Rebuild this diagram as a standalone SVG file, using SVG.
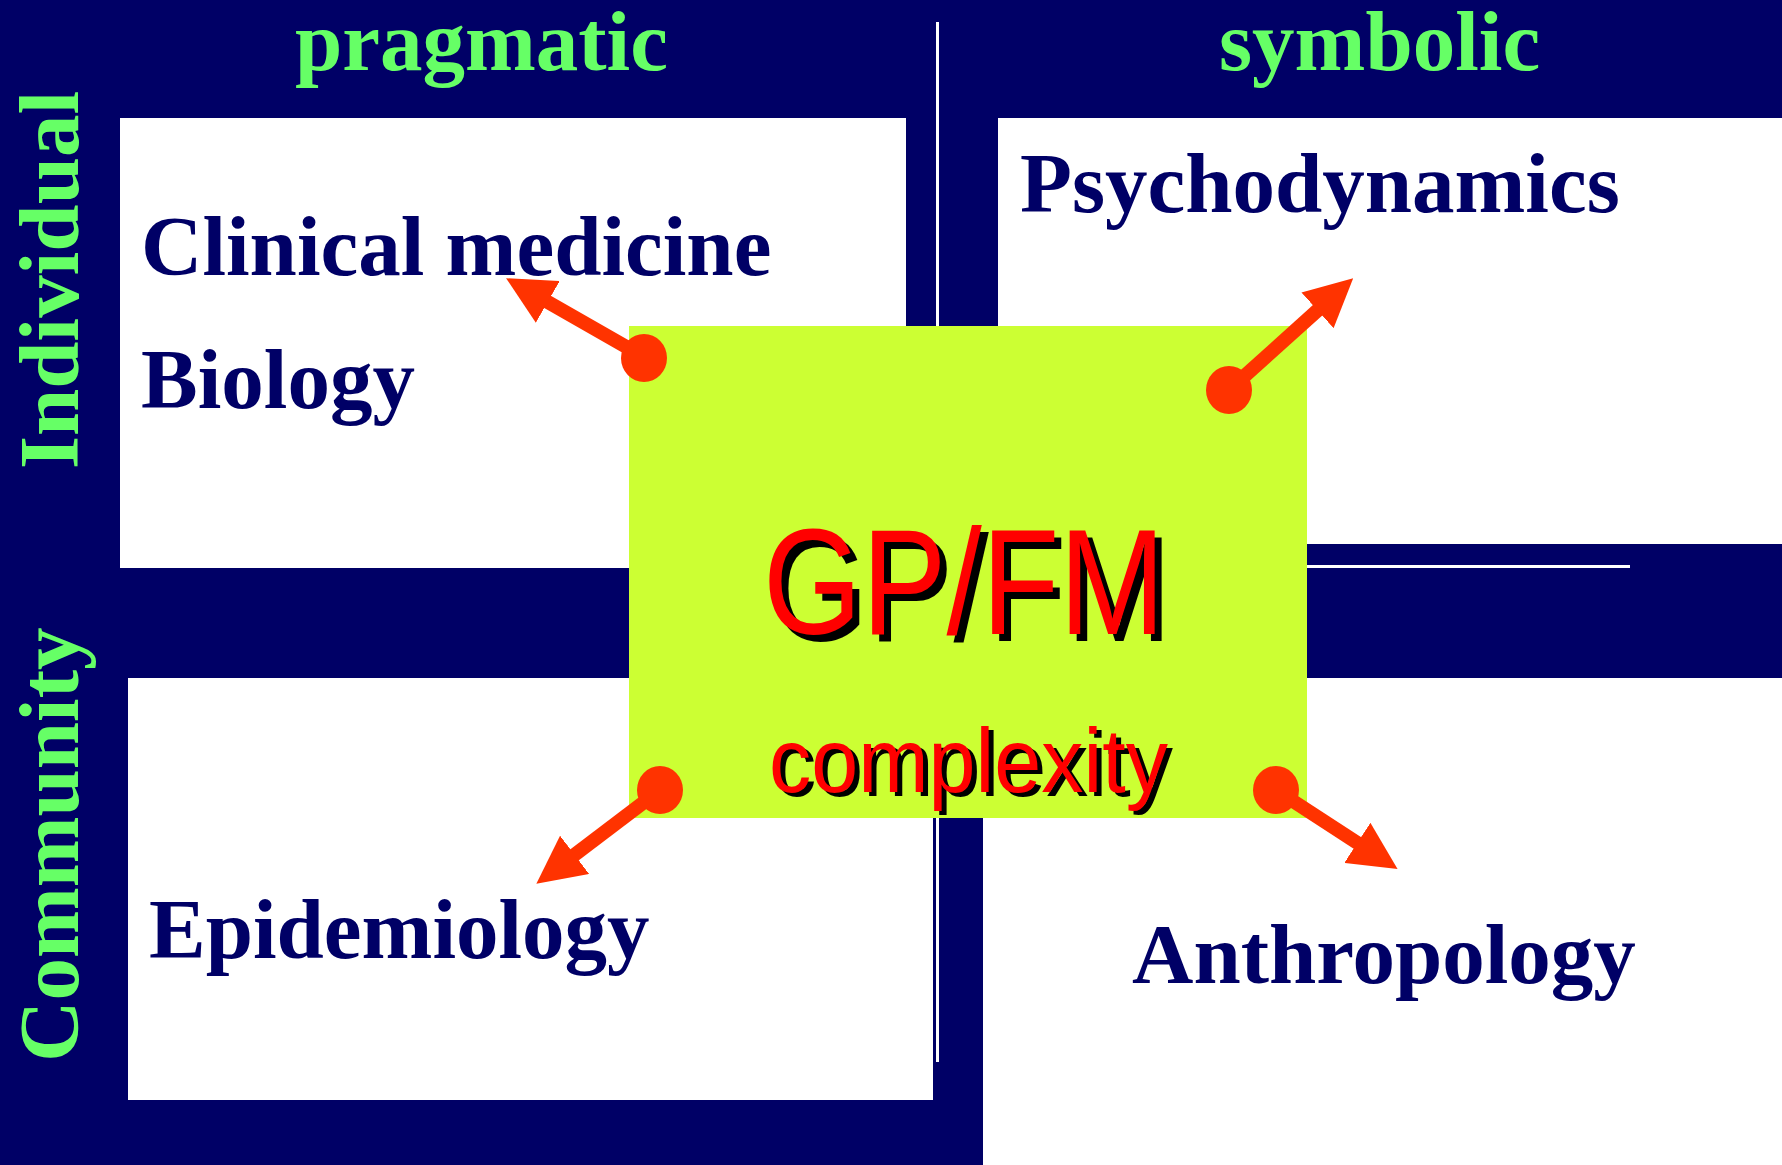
<svg xmlns="http://www.w3.org/2000/svg" width="1782" height="1165" viewBox="0 0 1782 1165">
<style>
.hdr{font-family:"Liberation Serif","Times New Roman",serif;font-weight:bold;font-size:85px;fill:#66FF66}
.lbl{font-family:"Liberation Serif","Times New Roman",serif;font-weight:bold;font-size:85px;fill:#000066}
.big{font-family:"Liberation Sans",Arial,sans-serif;font-size:150px}
.cx{font-family:"Liberation Sans",Arial,sans-serif;font-size:90px}
.quad{fill:#FFFFFF}
.conn{stroke:#FF3300;stroke-width:14;fill:none}
.dot{fill:#FF3300}
</style>
<defs>
<marker id="ah" markerUnits="userSpaceOnUse" markerWidth="48" markerHeight="48" viewBox="0 0 48 48" refX="2" refY="24" orient="auto">
<path d="M0,0 L48,24 L0,48 z" fill="#FF3300"/>
</marker>
</defs>
<rect x="0" y="0" width="1782" height="1165" fill="#000066"/>
<g id="quadrants">
<rect class="quad" x="120" y="118" width="786" height="450"/>
<rect class="quad" x="998" y="118" width="784" height="426"/>
<rect class="quad" x="128" y="678" width="805" height="422"/>
<rect class="quad" x="983" y="678" width="799" height="487"/>
</g>
<g id="dividers">
<rect x="936" y="22" width="3" height="1040" fill="#FFFFFF"/>
<rect x="1300" y="565" width="330" height="3" fill="#FFFFFF"/>
</g>
<g id="axis-labels">
<text class="hdr" x="295" y="70">pragmatic</text>
<text class="hdr" x="1219" y="70">symbolic</text>
<text class="hdr" transform="translate(78,469) rotate(-90)">Individual</text>
<text class="hdr" transform="translate(78,1062) rotate(-90)">Community</text>
</g>
<g id="node-clinical"><text class="lbl" x="141" y="275">Clinical medicine</text></g>
<g id="node-biology"><text class="lbl" x="141" y="408">Biology</text></g>
<g id="node-psychodynamics"><text class="lbl" x="1020" y="212">Psychodynamics</text></g>
<g id="node-epidemiology"><text class="lbl" x="149" y="958">Epidemiology</text></g>
<g id="node-anthropology"><text class="lbl" x="1132" y="983">Anthropology</text></g>
<g id="node-center">
<rect x="629" y="326" width="678" height="492" fill="#CCFF33"/>
<text class="big" x="770" y="641" textLength="402" lengthAdjust="spacingAndGlyphs" fill="#000000">GP/FM</text>
<text class="big" x="763" y="634" textLength="402" lengthAdjust="spacingAndGlyphs" fill="#FF0000">GP/FM</text>
<text class="cx" x="774" y="796" textLength="399" lengthAdjust="spacingAndGlyphs" fill="#000000">complexity</text>
<text class="cx" x="769" y="792" textLength="399" lengthAdjust="spacingAndGlyphs" fill="#FF0000">complexity</text>
</g>
<g id="connectors">
<line class="conn" x1="644" y1="357" x2="546" y2="301" marker-end="url(#ah)"/>
<line class="conn" x1="1229" y1="390" x2="1319" y2="309" marker-end="url(#ah)"/>
<line class="conn" x1="660" y1="790" x2="573" y2="856" marker-end="url(#ah)"/>
<line class="conn" x1="1276" y1="790" x2="1359" y2="844" marker-end="url(#ah)"/>
<ellipse class="dot" cx="644" cy="358" rx="23" ry="24"/>
<ellipse class="dot" cx="1229" cy="390" rx="23" ry="24"/>
<ellipse class="dot" cx="660" cy="790" rx="23" ry="24"/>
<ellipse class="dot" cx="1276" cy="790" rx="23" ry="24"/>
</g>
</svg>
